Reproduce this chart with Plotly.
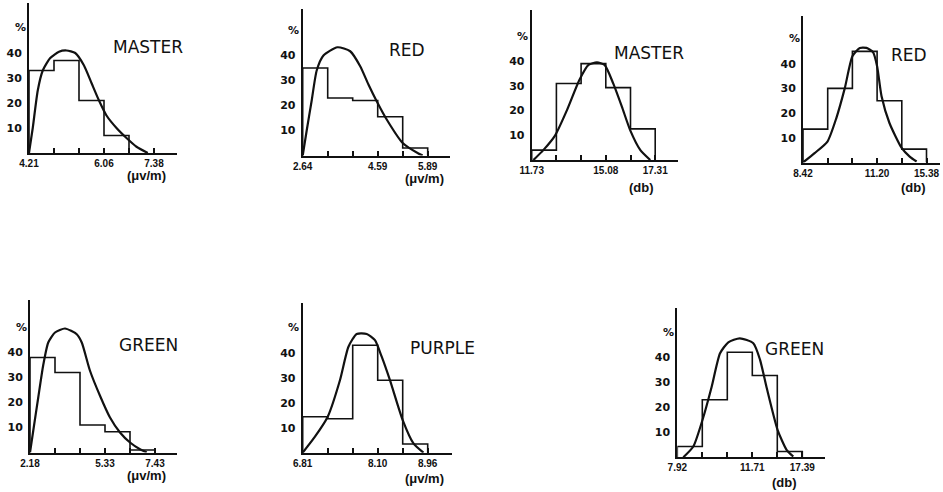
import plotly.graph_objects as go

W, H = 943, 492

# ---- data -------------------------------------------------------------
titles = ["MASTER", "RED", "MASTER", "RED", "GREEN", "PURPLE", "GREEN"]
units = ["(μv/m)", "(μv/m)", "(db)", "(db)", "(μv/m)", "(μv/m)", "(db)"]

# class-boundary labels shown under ticks 0, 3 and 5
x_labels = [
    ["4.21", "6.06", "7.38"],
    ["2.64", "4.59", "5.89"],
    ["11.73", "15.08", "17.31"],
    ["8.42", "11.20", "15.38"],
    ["2.18", "5.33", "7.43"],
    ["6.81", "8.10", "8.96"],
    ["7.92", "11.71", "17.39"],
]
y_ticks = [10, 20, 30, 40]

# histogram class frequencies (%)
hist_master_uv = [33, 37, 21, 7]
hist_red_uv = [35, 23, 22, 15.5, 3]
hist_master_db = [4, 31, 39, 29.3, 12.6]
hist_red_db = [13.5, 30, 45, 25, 5.4]
hist_green_uv = [38, 32, 11, 8.3, 1]
hist_purple_uv = [14.4, 13.6, 43, 29, 3.5]
hist_green_db = [4.3, 23, 42, 32.7, 2.3]

# fitted distribution curves (class units, %)
curve_master_uv_x = [0, 0.15, 0.35, 0.55, 0.85, 1.2, 1.5, 1.85, 2.2, 2.5, 2.8, 3.1, 3.5, 3.9, 4.3, 4.75]
curve_master_uv_y = [0, 10, 25, 33, 38, 40.5, 41, 40, 35, 28, 21, 15, 10, 6, 2.5, 0]
curve_red_uv_x = [0, 0.16, 0.36, 0.56, 0.83, 1.39, 1.9, 2.3, 2.63, 2.96, 3.36, 4.0, 4.63, 4.8]
curve_red_uv_y = [0, 10, 22, 34, 40, 43.3, 41.7, 35.7, 28.4, 21.7, 14.4, 5, 0.8, 0]
curve_master_db_x = [0.07, 0.47, 0.95, 1.42, 1.93, 2.3, 2.64, 2.95, 3.3, 3.65, 3.99, 4.4, 4.8]
curve_master_db_y = [0, 4, 10, 20, 32.4, 38.5, 39.5, 38.5, 31, 21.6, 12, 4, 0]
curve_red_db_x = [0, 0.47, 0.99, 1.35, 1.69, 2.0, 2.3, 2.57, 2.84, 3.0, 3.18, 3.5, 4.0, 4.32, 4.6]
curve_red_db_y = [0, 3.8, 8.5, 18, 30, 43, 46.4, 46.4, 44.6, 39, 26.8, 16, 5.8, 2.4, 0.4]
curve_green_uv_x = [0, 0.13, 0.33, 0.53, 0.73, 1.0, 1.4, 1.87, 2.07, 2.4, 2.8, 3.2, 3.6, 4.0, 4.4, 4.67]
curve_green_uv_y = [0, 8.7, 22, 35, 44, 48, 49.6, 47.3, 44, 32.7, 22.7, 14, 8, 4, 1.3, 0]
curve_purple_uv_x = [0, 0.49, 1.0, 1.49, 1.83, 2.16, 2.56, 2.89, 3.16, 3.49, 4.0, 4.43, 4.83]
curve_purple_uv_y = [0, 6.4, 14.4, 29, 42.4, 47.5, 47.5, 45, 38.4, 29, 13, 3.7, 0]
curve_green_db_x = [0.24, 0.64, 1.04, 1.37, 1.71, 2.04, 2.5, 3.04, 3.31, 3.57, 4.01, 4.37, 4.64]
curve_green_db_y = [0, 4.3, 16, 28, 41.6, 46, 47.6, 45.6, 39, 28, 11, 3, 0.3]

hists = [hist_master_uv, hist_red_uv, hist_master_db, hist_red_db,
         hist_green_uv, hist_purple_uv, hist_green_db]
curves = [
    (curve_master_uv_x, curve_master_uv_y),
    (curve_red_uv_x, curve_red_uv_y),
    (curve_master_db_x, curve_master_db_y),
    (curve_red_db_x, curve_red_db_y),
    (curve_green_uv_x, curve_green_uv_y),
    (curve_purple_uv_x, curve_purple_uv_y),
    (curve_green_db_x, curve_green_db_y),
]

# ---- panel geometry (pixels): axis x, baseline y, axis end x, axis top y,
#      px per class, px per 10 %, title centre, units centre
panels = [
    dict(ax=29, base=153, end=177, top=3, px=25, py=25, title=(148, 47), unit=(146, 176)),
    dict(ax=302.7, base=155.5, end=450, top=9, px=25, py=25, title=(407, 50), unit=(424, 179)),
    dict(ax=531.7, base=160, end=678, top=10, px=24.7, py=24.7, title=(649, 53), unit=(641, 187)),
    dict(ax=803, base=162.5, end=940, top=16, px=24.7, py=24.7, title=(909, 55), unit=(913, 187)),
    dict(ax=30, base=452.5, end=177, top=300, px=25, py=25, title=(148, 345), unit=(146, 475)),
    dict(ax=302.7, base=452.7, end=451.7, top=303, px=25, py=25, title=(442, 348), unit=(424, 478)),
    dict(ax=677.3, base=457.3, end=825, top=308, px=25, py=25, title=(794, 349), unit=(784, 482)),
]

INK = "#111111"
fig = go.Figure()
annotations = []
layout_axes = {}


def px2paper(x, y):
    return x / W, 1 - y / H


for i, (p, hist, (cx, cy)) in enumerate(zip(panels, hists, curves)):
    n = "" if i == 0 else str(i + 1)
    xa, ya = "x" + n, "y" + n
    xr = (p["end"] - p["ax"]) / p["px"]
    yr = (p["base"] - p["top"]) / p["py"] * 10

    # stepped outline of the histogram
    edges = list(range(len(hist) + 1))
    sx = [0] + edges
    sy = [0] + list(hist) + [0]
    fig.add_trace(go.Scatter(x=sx, y=sy, mode="lines", line_shape="hv",
                             line=dict(color=INK, width=1.6),
                             xaxis=xa, yaxis=ya, hoverinfo="skip"))
    # fitted curve
    fig.add_trace(go.Scatter(x=cx, y=cy, mode="lines", line_shape="spline",
                             line=dict(color=INK, width=2.2, smoothing=0.6),
                             xaxis=xa, yaxis=ya, hoverinfo="skip"))

    lab = x_labels[i]
    ticktext = [lab[0], "", "", lab[1], "", lab[2]]
    layout_axes["xaxis" + n] = dict(
        domain=[p["ax"] / W, p["end"] / W], range=[0, xr], anchor=ya,
        automargin=False,
        showgrid=False, zeroline=False, showline=True, linecolor=INK, linewidth=2,
        ticks="inside", ticklen=5, tickwidth=1.5, tickcolor=INK,
        tickvals=list(range(6)), ticktext=ticktext,
        tickfont=dict(family="Liberation Sans", size=10, color=INK, weight="bold"),
        fixedrange=True,
    )
    layout_axes["yaxis" + n] = dict(
        domain=[1 - p["base"] / H, 1 - p["top"] / H], range=[0, yr], anchor=xa,
        automargin=False,
        showgrid=False, zeroline=False, showline=True, linecolor=INK, linewidth=2,
        ticks="", tickvals=y_ticks, ticktext=[str(v) for v in y_ticks],
        ticklabelstandoff=3,
        tickfont=dict(family="DejaVu Sans", size=11, color=INK, weight="bold"),
        fixedrange=True,
    )

    # "%" marker above the y labels
    px_, py_ = px2paper(p["ax"] - 9, p["base"] - 50 * p["py"] / 10)
    annotations.append(dict(x=px_, y=py_, xref="paper", yref="paper", text="%",
                            showarrow=False, xanchor="center", yanchor="middle",
                            font=dict(family="DejaVu Sans", size=11, color=INK, weight="bold")))
    # panel title
    tx, ty = px2paper(*p["title"])
    annotations.append(dict(x=tx, y=ty, xref="paper", yref="paper", text=titles[i],
                            showarrow=False, xanchor="center", yanchor="middle",
                            font=dict(family="DejaVu Sans", size=17, color=INK)))
    # units
    ux, uy = px2paper(*p["unit"])
    annotations.append(dict(x=ux, y=uy, xref="paper", yref="paper", text=units[i],
                            showarrow=False, xanchor="center", yanchor="middle",
                            font=dict(family="Liberation Sans", size=13, color=INK, weight="bold")))

fig.update_layout(
    width=W, height=H, margin=dict(l=0, r=0, t=0, b=0, autoexpand=False),
    paper_bgcolor="white", plot_bgcolor="white", showlegend=False,
    annotations=annotations, **layout_axes,
)

fig.write_html("out.html")
